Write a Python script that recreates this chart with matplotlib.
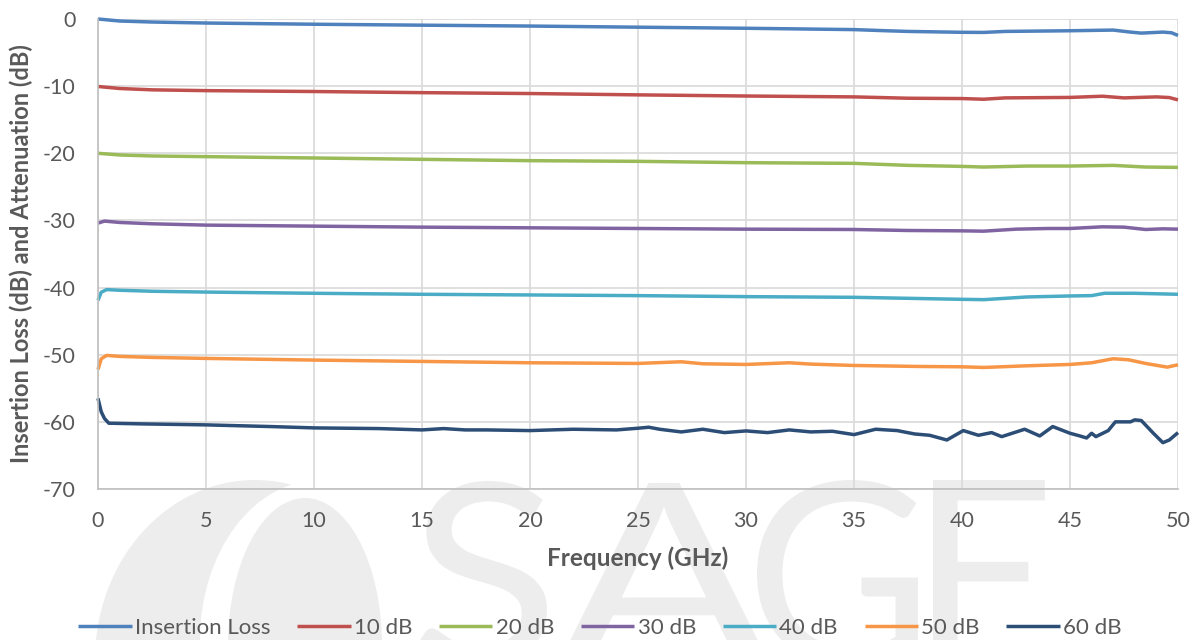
import matplotlib
matplotlib.use("Agg")
import matplotlib.pyplot as plt
from matplotlib.patches import Ellipse, PathPatch
from matplotlib.textpath import TextPath
from matplotlib.font_manager import FontProperties
from matplotlib.transforms import Affine2D, IdentityTransform

# data
x_il = [0, 1, 2.5, 5, 10, 15, 20, 25, 30, 35, 36.5, 37.5, 40, 41, 42, 45, 47, 47.8, 48.3, 49.3, 49.7, 50]
y_il = [0, -0.3, -0.45, -0.6, -0.78, -0.92, -1.05, -1.22, -1.38, -1.58, -1.75, -1.85, -1.98, -2.0,
        -1.85, -1.75, -1.65, -1.95, -2.1, -1.95, -2.05, -2.45]

x_10 = [0, 1, 2.5, 5, 10, 15, 20, 25, 30, 35, 37.5, 40, 41, 42, 45, 46.5, 47.5, 49, 49.6, 50]
y_10 = [-10.05, -10.35, -10.55, -10.67, -10.8, -10.97, -11.1, -11.3, -11.47, -11.6, -11.8, -11.85,
        -11.95, -11.75, -11.68, -11.5, -11.75, -11.6, -11.7, -12.05]

x_20 = [0, 1, 2.5, 5, 10, 15, 20, 25, 30, 35, 37.5, 40, 41, 43, 45, 47, 48.5, 50]
y_20 = [-20.0, -20.25, -20.4, -20.5, -20.7, -20.9, -21.1, -21.2, -21.4, -21.5, -21.8, -21.95,
        -22.05, -21.9, -21.9, -21.8, -22.05, -22.1]

x_30 = [0, 0.3, 1, 2.5, 5, 10, 15, 20, 25, 30, 35, 37.5, 40, 41, 42.5, 44, 45, 46.5, 47.5, 48.5, 49.3, 50]
y_30 = [-30.4, -30.1, -30.3, -30.5, -30.7, -30.85, -31.0, -31.1, -31.2, -31.3, -31.35, -31.5,
        -31.55, -31.6, -31.3, -31.2, -31.2, -30.95, -31.0, -31.35, -31.25, -31.3]

x_40 = [0, 0.15, 0.4, 1, 2.5, 5, 10, 15, 20, 25, 30, 35, 37.5, 40, 41, 42, 43, 45, 46, 46.6, 48, 50]
y_40 = [-41.9, -40.7, -40.3, -40.4, -40.55, -40.67, -40.85, -41.0, -41.1, -41.2, -41.35, -41.45,
        -41.6, -41.75, -41.8, -41.6, -41.4, -41.25, -41.2, -40.85, -40.85, -41.0]

x_50 = [0, 0.15, 0.4, 1, 2.5, 5, 10, 15, 20, 25, 27, 28, 30, 32, 33, 35, 38, 40, 41, 43, 45, 46,
        47, 47.7, 48.5, 49.5, 50]
y_50 = [-52.2, -50.6, -50.1, -50.25, -50.4, -50.55, -50.8, -51.0, -51.2, -51.3, -51.05, -51.35,
        -51.45, -51.2, -51.4, -51.6, -51.75, -51.8, -51.9, -51.65, -51.45, -51.2, -50.6, -50.75,
        -51.3, -51.85, -51.5]

x_60 = [0, 0.15, 0.3, 0.5, 2, 5, 8, 10, 13, 15, 16, 17, 18, 20, 22, 24, 25, 25.5, 26, 27, 28, 29,
        30, 31, 32, 33, 34, 35, 35.5, 36, 37, 37.8, 38.5, 39.3, 40.06, 40.76, 41.37, 41.84, 42.9,
        43.6, 44.2, 45.0, 45.46, 45.77, 46.0, 46.2, 46.77, 47.1, 47.8, 48.0, 48.3, 48.86, 49.3,
        49.6, 50]
y_60 = [-56.5, -58.5, -59.5, -60.2, -60.3, -60.45, -60.7, -60.9, -61.0, -61.2, -61.0, -61.2,
        -61.2, -61.3, -61.1, -61.2, -60.95, -60.8, -61.1, -61.5, -61.1, -61.6, -61.35, -61.6,
        -61.2, -61.5, -61.4, -61.9, -61.5, -61.1, -61.3, -61.8, -62.0, -62.7, -61.3, -62.0,
        -61.6, -62.2, -61.1, -62.1, -60.7, -61.7, -62.1, -62.4, -61.7, -62.2, -61.3, -60.0,
        -60.0, -59.7, -59.8, -61.7, -63.1, -62.7, -61.6]

names = ["Insertion Loss", "10 dB", "20 dB", "30 dB", "40 dB", "50 dB", "60 dB"]
colors = ["#4F81BD", "#C0504D", "#9BBB59", "#8064A2", "#4BACC6", "#F79646", "#2C4D75"]
xs = [x_il, x_10, x_20, x_30, x_40, x_50, x_60]
ys = [y_il, y_10, y_20, y_30, y_40, y_50, y_60]

plt.rcParams["font.family"] = ["Lato", "DejaVu Sans"]
plt.rcParams["axes.unicode_minus"] = False
txt = "#595959"
W, H = 1197, 640

fig = plt.figure(figsize=(W / 100, H / 100), dpi=100)
fig.patch.set_facecolor("white")

# faint watermark behind the chart
wm = "#EDEDED"
for (cx, cy, w, h, c) in [(255, 660, 320, 360, wm), (320, 640, 240, 320, "white"), (305, 645, 154, 294, wm)]:
    fig.add_artist(Ellipse((cx, H - cy), w, h, transform=IdentityTransform(),
                           facecolor=c, edgecolor="none", zorder=0.2))
fp = FontProperties(family="Lato", weight="normal")
for ch, x0, x1, y0, y1 in [("S", 418, 547, 481, 667), ("A", 558, 770, 483, 665),
                           ("G", 757, 918, 480, 668), ("E", 933, 1045, 480, 665)]:
    tp = TextPath((0, 0), ch, size=100, prop=fp)
    ext = tp.get_extents()
    tr = Affine2D().translate(-ext.x0, -ext.y0).scale((x1 - x0) / ext.width, (y1 - y0) / ext.height)
    tr = tr.translate(x0, H - y1)
    fig.add_artist(PathPatch(tr.transform_path(tp), facecolor=wm, edgecolor="none",
                             transform=IdentityTransform(), zorder=0.3))

ax = fig.add_axes([98 / W, (H - 489) / H, 1080 / W, 470 / H])
ax.set_zorder(1)
ax.patch.set_alpha(0)

for x, y, n, c in zip(xs, ys, names, colors):
    ax.plot(x, y, color=c, lw=2.5, label=n, clip_on=False, solid_capstyle="butt")

ax.set_xlim(0, 50)
ax.set_ylim(-70, 0)
ax.set_xticks(range(0, 51, 5))
ax.set_yticks(range(-70, 1, 10))
ax.grid(True, color="#D9D9D9", lw=1.2)
ax.set_axisbelow(True)
for s in ["top", "right"]:
    ax.spines[s].set_visible(False)
for s in ["left", "bottom"]:
    ax.spines[s].set_color("#BFBFBF")
    ax.spines[s].set_linewidth(1.2)
ax.tick_params(length=0, labelsize=15.5, labelcolor=txt, pad=16)

ax.set_xlabel("Frequency (GHz)", fontsize=17.5, fontweight="bold", color=txt, labelpad=11)
ax.set_ylabel("Insertion Loss (dB) and Attenuation (dB)", fontsize=17, fontweight="bold",
              color=txt, labelpad=7)

fig.legend(loc="center", bbox_to_anchor=(600 / W, 1 - 628 / H), ncol=7, frameon=False,
           fontsize=16, handlelength=2.4, handletextpad=0.15, columnspacing=1.2,
           labelcolor=txt)

fig.savefig("out.png", dpi=100)
